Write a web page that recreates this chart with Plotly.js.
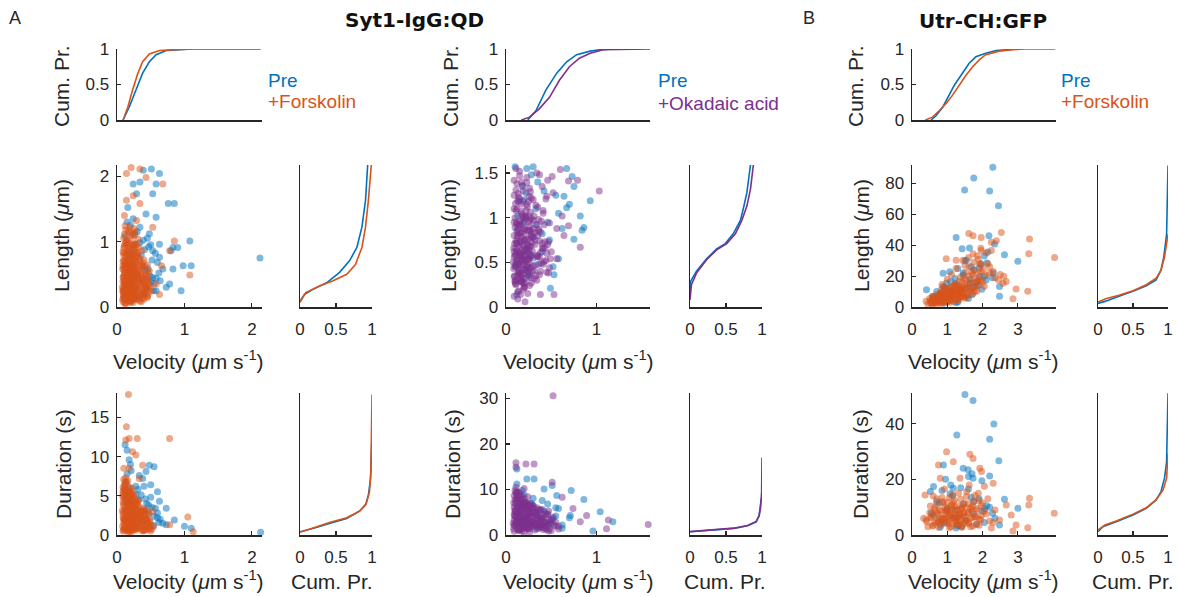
<!DOCTYPE html>
<html><head><meta charset="utf-8">
<script src="https://cdn.plot.ly/plotly-3.0.1.min.js"></script>
<style>html,body{margin:0;padding:0;background:#fff}#chart{width:1178px;height:597px}</style>
</head><body><div id="chart"></div>
<script>
// ---------------- DATA ----------------
// Tick values
const sytVelTicks = [0, 1, 2];
const sytLenTicks = [0, 1, 2];
const sytDurTicks = [0, 5, 10, 15];
const oaVelTicks = [0, 1];
const oaLenTicks = [0, 0.5, 1, 1.5];
const oaDurTicks = [0, 10, 20, 30];
const utrVelTicks = [0, 1, 2, 3];
const utrLenTicks = [0, 20, 40, 60, 80];
const utrDurTicks = [0, 20, 40];
const cdfTicks = [0, 0.5, 1];

// ===== Syt1-IgG:QD, Pre vs +Forskolin =====
const sytPreVelCdfX = [0.09,0.18,0.28,0.38,0.48,0.58,0.73,0.92,1.12,2.13];
const sytPreVelCdfP = [0,0.18,0.42,0.66,0.82,0.92,0.98,0.99,1,1];
const sytFskVelCdfX = [0.09,0.16,0.23,0.31,0.38,0.48,0.63,0.82,1.10];
const sytFskVelCdfP = [0,0.18,0.42,0.66,0.82,0.93,0.98,0.99,1];
const sytPreLenCdfP = [0,0.06,0.18,0.37,0.55,0.69,0.79,0.86,0.91,0.94];
const sytPreLenCdfY = [0.09,0.19,0.27,0.37,0.53,0.71,0.91,1.22,1.63,2.17];
const sytFskLenCdfP = [0,0.08,0.27,0.46,0.65,0.77,0.86,0.91,0.95,0.99];
const sytFskLenCdfY = [0.07,0.22,0.32,0.40,0.50,0.65,0.91,1.22,1.63,2.17];
const sytPreDurCdfP = [0,0.19,0.42,0.65,0.82,0.91,0.95,0.98,0.99,1];
const sytPreDurCdfY = [0.42,0.85,1.49,2.1,3.0,3.8,5.1,7.2,10.2,12.3];
const sytFskDurCdfP = [0,0.19,0.42,0.65,0.83,0.92,0.965,0.985,0.995,1];
const sytFskDurCdfY = [0.35,0.94,1.62,2.2,3.05,4.0,5.5,8.1,12.3,17.9];
const sytPreLenV = [0.51,0.63,0.58,0.34,0.24,0.53,0.76,0.85,0.58,0.43,1.08,0.83,0.90,0.80,0.98,1.10,0.83,2.12,0.95,0.68,0.78,0.63,0.48,0.39,0.29,0.16,0.34,0.53,0.63,0.53,0.58,0.73,
  0.10,0.14,0.18,0.22,0.27,0.33,0.38,0.44,0.49,0.55,0.12,0.20,0.30,0.41,0.52,0.16,0.25,0.35,0.46,0.58,0.11,0.24,0.39,0.50,0.62,
  0.13,0.17,0.21,0.26,0.31,0.36,0.42,0.47,0.54,0.60,0.15,0.19,0.23,0.28,0.34,0.40,0.45,0.50,0.57,0.64];
const sytPreLen = [2.11,2.04,1.88,1.91,1.88,1.73,1.58,1.58,1.37,1.42,1.01,0.91,0.91,0.86,0.63,0.63,0.58,0.75,0.25,0.58,0.35,0.96,1.12,2.09,1.73,1.52,1.22,0.86,0.76,0.45,0.25,0.30,
  0.15,0.32,0.55,0.78,0.95,0.41,0.62,0.28,0.47,0.36,1.08,1.25,1.15,0.88,0.72,0.65,0.22,0.18,0.58,0.44,0.45,1.35,1.02,0.95,0.52,
  0.62,0.85,0.35,1.12,0.48,0.79,0.56,0.92,0.25,0.68,1.30,0.42,0.66,0.30,0.98,0.20,1.05,0.38,0.82,0.40];
const sytFskLenV = [0.21,0.34,0.14,0.43,0.68,0.24,0.14,0.11,0.34,0.29,0.53,0.85,0.78,1.08,0.66,0.58,0.63,0.24,
  0.09,0.11,0.13,0.15,0.18,0.21,0.24,0.27,0.30,0.34,0.38,0.42,0.10,0.12,0.16,0.20,0.25,0.31,0.36,0.45,
  0.09,0.10,0.12,0.14,0.16,0.19,0.22,0.25,0.28,0.32,0.35,0.39,0.43,0.47,0.50,0.11,0.17,0.23,0.29,0.37,
  0.09,0.11,0.13,0.15,0.18,0.20,0.23,0.26,0.30,0.33,0.37,0.41,0.46,0.12,0.19,0.27,0.35,0.44,
  0.09,0.12,0.14,0.17,0.21,0.24,0.28,0.31,0.36,0.40,0.10,0.19,0.26,0.33,0.45,
  0.09,0.11,0.14,0.17,0.20,0.24,0.28,0.32,0.37,0.13,0.22,0.30,
  0.10,0.13,0.16,0.19,0.23,0.27,0.31,0.12,0.21,0.25,
  0.08,0.10,0.12,0.14,0.16,0.18,0.20,0.22,0.24,0.26,0.28,0.09,0.11,0.13,0.15,0.17,0.19,0.21,0.23,0.25,0.27,0.29,
  0.085,0.095,0.105,0.115,0.125,0.135,0.145,0.155,0.165,0.175,0.185,0.195,0.205,0.215,0.225,0.235,0.245,0.255,0.265,0.275,
  0.085,0.095,0.105,0.115,0.125,0.135,0.145,0.155,0.165,0.175,0.185,0.195,0.205,0.215,0.225,0.235,0.245,0.255,0.265,0.275,
  0.29,0.31,0.33,0.35,0.37,0.39,0.41,0.43,0.30,0.32,0.34,0.36,0.38,0.40,0.42,0.44,0.46,0.48,0.28,0.26,
  0.09,0.11,0.13,0.15,0.17,0.19,0.21,0.23,0.25,0.27,0.10,0.12,0.14,0.16,0.18,0.20,0.22,0.24,0.26,0.28,
  0.09,0.10,0.11,0.12,0.13,0.14,0.15,0.16,0.17,0.18,0.19,0.20,0.21,0.22,0.23,0.24,0.25,0.26,0.27,0.28,
  0.09,0.10,0.11,0.12,0.13,0.14,0.15,0.16,0.17,0.18,0.19,0.20,0.21,0.22,0.23,0.24,0.25,0.26,0.27,0.28,
  0.30,0.32,0.34,0.36,0.38,0.40,0.42,0.44,0.46,0.48,0.50,0.31,0.33,0.35,0.37,0.39,0.41,0.43,0.45,0.47];
const sytFskLen = [2.13,2.11,2.04,1.98,1.88,1.70,1.63,1.40,1.58,1.32,1.22,1.01,0.86,0.49,0.63,0.35,0.19,0.19,
  0.08,0.12,0.06,0.15,0.10,0.18,0.07,0.13,0.16,0.09,0.14,0.19,0.17,0.05,0.11,0.07,0.19,0.12,0.08,0.16,
  0.22,0.31,0.38,0.25,0.34,0.28,0.39,0.21,0.33,0.26,0.37,0.24,0.30,0.35,0.27,0.36,0.23,0.32,0.29,0.40,
  0.45,0.52,0.41,0.58,0.48,0.55,0.43,0.59,0.50,0.46,0.57,0.42,0.53,0.49,0.56,0.44,0.51,0.47,
  0.63,0.71,0.66,0.78,0.62,0.74,0.69,0.77,0.65,0.72,0.79,0.68,0.61,0.75,0.64,
  0.84,0.93,0.81,0.97,0.88,0.95,0.83,0.91,0.86,0.99,0.82,0.96,
  1.05,1.18,1.02,1.22,1.10,1.15,1.04,1.24,1.13,1.20,
  0.30,0.58,0.21,0.46,0.27,0.63,0.35,0.52,0.44,0.31,0.57,0.26,0.40,0.69,0.33,0.50,0.14,0.61,0.24,0.48,0.38,0.66,
  0.12,0.47,0.83,0.29,0.66,0.18,1.02,0.39,0.74,0.55,0.23,0.91,0.35,0.61,0.15,0.79,0.44,1.09,0.27,0.70,
  0.58,0.25,0.37,0.96,0.14,0.52,0.31,0.87,0.20,1.14,0.67,0.41,0.76,0.10,0.53,0.34,0.93,0.19,0.62,0.45,
  0.18,0.42,0.27,0.63,0.35,0.21,0.50,0.30,0.77,0.55,0.13,0.46,0.68,0.38,0.24,0.41,0.19,0.33,0.88,0.97,
  0.39,0.64,0.28,0.81,0.44,0.72,0.16,0.58,0.86,0.36,0.71,0.22,0.95,0.60,0.33,1.06,0.48,0.26,0.11,0.54,
  0.24,0.90,0.53,0.07,0.77,0.43,0.62,0.19,1.16,0.34,0.81,0.54,0.09,0.73,0.96,0.29,0.65,0.14,0.43,0.21,
  0.70,0.16,1.11,0.61,0.32,0.98,0.25,0.67,0.48,0.88,0.08,0.38,0.66,0.27,0.48,0.89,0.13,0.71,0.57,0.80,
  0.52,0.22,0.71,0.31,0.46,0.12,0.62,0.27,0.38,0.55,0.24,0.83,0.40,0.18,0.60,0.34,0.29,0.48,0.15,0.42];
const sytPreDurV = [0.12,0.15,0.18,0.48,0.55,0.43,0.50,0.60,0.73,0.85,1.00,1.10,2.13,0.73,0.63,0.38,
  0.12,0.18,0.25,0.32,0.40,0.47,0.55,0.62,0.15,0.28,0.36,0.44,0.52,0.60,0.68,0.20,0.33,
  0.13,0.17,0.21,0.26,0.31,0.36,0.42,0.47,0.54,0.60,0.15,0.19,0.23,0.28,0.34,0.40,0.45,0.50,0.57,0.64];
const sytPreDur = [11.5,10.8,9.6,8.9,8.7,8.1,6.4,5.5,3.4,1.9,1.1,0.85,0.34,1.3,4.3,7.2,
  5.5,4.8,3.9,4.5,3.2,2.8,2.4,1.6,7.8,6.2,5.1,4.0,3.5,2.2,1.5,9.0,7.6,
  6.8,3.5,8.2,2.2,5.8,1.5,4.6,3.8,1.2,2.8,4.2,6.0,2.6,5.2,3.0,6.2,1.8,4.8,3.4,2.0];
const sytFskDurV = [0.17,0.14,0.13,0.18,0.30,0.78,0.23,0.28,0.38,0.18,0.10,0.33,1.05,1.13,0.53,0.78,
  0.09,0.12,0.15,0.18,0.21,0.25,0.29,0.33,0.38,0.43,0.48,0.54,0.11,0.17,0.23,0.31,0.40,0.50,
  0.09,0.11,0.13,0.16,0.19,0.22,0.26,0.30,0.34,0.39,0.44,0.12,0.20,0.28,0.36,
  0.09,0.11,0.14,0.17,0.20,0.24,0.28,0.32,0.10,0.15,0.22,
  0.09,0.10,0.12,0.14,0.16,0.19,0.22,0.11,0.13,
  0.08,0.10,0.12,0.14,0.16,0.18,0.20,0.22,0.24,0.26,0.09,0.11,0.13,0.15,0.17,0.19,0.21,0.23,0.27,0.31,0.35,
  0.085,0.095,0.105,0.115,0.125,0.135,0.145,0.155,0.165,0.175,0.185,0.195,0.205,0.215,0.225,0.235,0.245,0.255,0.265,0.275,
  0.085,0.095,0.105,0.115,0.125,0.135,0.145,0.155,0.165,0.175,0.185,0.195,0.205,0.215,0.225,0.235,0.245,0.255,0.265,0.275,
  0.29,0.31,0.33,0.35,0.37,0.39,0.41,0.43,0.45,0.47,0.30,0.32,0.34,0.36,0.38,0.40,0.42,0.44,0.49,0.52,
  0.09,0.10,0.11,0.12,0.13,0.14,0.15,0.16,0.17,0.18,0.19,0.20,0.21,0.22,0.23,0.24,0.25,0.26,0.27,0.28,
  0.09,0.10,0.11,0.12,0.13,0.14,0.15,0.16,0.17,0.18,0.19,0.20,0.21,0.22,0.23,0.24,0.25,0.26,0.27,0.28,
  0.30,0.32,0.34,0.36,0.38,0.40,0.42,0.44,0.46,0.48,0.50,0.31,0.33,0.35,0.37,0.39,0.41,0.43,0.45,0.47];
const sytFskDur = [17.9,13.8,12.1,12.3,12.3,12.3,10.6,10.2,8.9,8.5,8.5,7.2,2.3,0.4,3.0,1.3,
  0.5,1.2,0.8,1.7,0.4,1.4,0.9,1.9,0.6,1.3,0.7,1.1,1.8,0.3,1.0,1.6,1.9,0.5,
  2.3,3.5,2.8,3.9,2.1,3.2,2.6,3.7,2.4,3.0,2.2,2.0,3.8,3.3,2.9,
  4.2,5.1,4.6,5.4,4.3,4.9,4.1,4.4,4.8,4.0,5.2,
  6.1,7.1,5.8,6.6,6.9,5.6,6.0,6.4,7.3,
  3.1,1.5,4.4,2.5,0.9,3.6,2.9,1.2,2.0,3.4,5.6,0.7,3.3,1.9,4.6,1.0,2.4,3.9,1.4,2.7,1.6,
  1.1,3.8,5.9,2.2,4.7,0.8,3.1,5.6,1.7,4.2,2.6,0.6,3.9,5.0,1.3,2.8,4.4,0.9,3.5,2.1,
  4.9,2.0,0.9,6.3,3.0,5.5,1.8,2.4,6.2,0.7,4.9,3.4,1.5,2.3,4.1,0.6,1.9,3.2,1.4,4.3,
  2.5,0.8,3.6,1.9,1.2,2.8,0.6,2.0,1.5,0.9,4.4,1.6,2.2,3.1,0.5,1.8,2.6,1.1,1.7,0.8,
  2.7,0.6,4.1,6.8,1.6,3.3,5.0,2.2,0.5,3.9,5.4,1.3,2.5,4.5,3.0,0.7,2.2,4.0,0.9,2.6,
  5.3,3.0,1.9,0.9,5.8,2.4,0.6,4.4,3.6,2.3,1.0,4.1,5.6,0.8,1.9,3.5,5.1,1.6,3.8,0.6,
  3.9,2.3,1.0,3.0,2.1,0.6,3.2,1.4,2.6,1.9,1.2,0.9,2.8,2.5,1.3,3.4,2.0,0.7,3.0,1.5];

// ===== Syt1-IgG:QD, Pre vs +Okadaic acid =====
const oaPreVelCdfX = [0.24,0.33,0.44,0.56,0.67,0.78,0.93,1.04,1.19];
const oaPreVelCdfP = [0,0.13,0.42,0.66,0.82,0.92,0.97,0.99,1];
const oaOaVelCdfX = [0.17,0.26,0.37,0.48,0.59,0.70,0.81,0.93,1.07,1.33,1.59];
const oaOaVelCdfP = [0,0.04,0.16,0.32,0.56,0.75,0.87,0.94,0.99,1,1];
const oaPreLenCdfP = [0,0.01,0.09,0.23,0.37,0.49,0.6,0.7,0.74,0.79,0.84];
const oaPreLenCdfY = [0.14,0.29,0.4,0.54,0.65,0.71,0.82,0.97,1.1,1.28,1.59];
const oaOaLenCdfP = [0,0.02,0.09,0.23,0.37,0.51,0.63,0.72,0.79,0.84,0.88];
const oaOaLenCdfY = [0.08,0.25,0.38,0.53,0.64,0.71,0.82,0.97,1.13,1.32,1.59];
const oaPreDurCdfP = [0,0.15,0.38,0.61,0.8,0.92,0.96,0.98,0.99];
const oaPreDurCdfY = [0.72,0.94,1.16,1.45,2.03,2.9,4.35,6.5,8.0];
const oaOaDurCdfP = [0,0.15,0.38,0.61,0.8,0.92,0.96,0.98,0.995,1];
const oaOaDurCdfY = [0.75,0.97,1.2,1.5,2.1,3.0,4.2,6.0,9.5,17];
const oaPreLenV = [0.10,0.30,0.23,0.67,0.73,0.75,0.93,0.82,0.86,0.84,0.75,0.58,0.64,0.49,0.53,0.12,0.67,
  0.11,0.15,0.20,0.26,0.33,0.40,0.18,0.24,0.30,0.13,0.22,0.36,
  0.12,0.16,0.20,0.25,0.30,0.35,0.40,0.46,0.52,0.58,0.14,0.18,0.22,0.28,0.34,0.42,0.48,0.55,0.62,0.70];
const oaPreLen = [1.57,1.57,1.55,1.55,1.46,1.35,1.19,1.02,0.89,0.86,0.76,0.54,1.24,0.21,0.36,0.14,1.11,
  0.45,0.72,0.95,0.60,1.10,0.82,1.35,0.38,0.55,1.02,1.28,0.48,
  0.85,0.52,1.20,0.35,0.78,1.40,0.62,0.95,0.45,1.05,1.18,0.28,0.66,1.48,0.92,1.30,0.75,1.25,0.88,1.15];
const oaOaLenV = [1.03,0.82,0.69,0.79,0.60,0.56,0.64,0.21,0.53,0.38,0.51,0.45,0.62,0.69,0.49,0.56,
  0.09,0.11,0.14,0.17,0.20,0.24,0.28,0.13,0.19,0.26,0.10,0.16,
  0.09,0.10,0.12,0.14,0.16,0.18,0.20,0.23,0.26,0.29,0.33,0.37,0.42,0.11,0.15,0.21,0.27,0.35,0.13,0.19,0.25,0.31,
  0.09,0.11,0.13,0.15,0.17,0.19,0.22,0.25,0.28,0.32,0.36,0.41,0.47,0.10,0.14,0.20,0.24,0.30,0.38,0.12,0.18,0.27,
  0.09,0.11,0.14,0.17,0.21,0.25,0.30,0.35,0.41,0.48,0.13,0.19,0.27,0.33,
  0.09,0.12,0.15,0.19,0.23,0.28,0.34,0.40,0.46,0.52,0.11,0.17,0.26,0.37,0.44,
  0.08,0.10,0.12,0.14,0.16,0.18,0.20,0.22,0.24,0.26,0.28,0.30,0.09,0.13,0.17,0.21,0.25,0.29,
  0.085,0.095,0.105,0.115,0.125,0.135,0.145,0.155,0.165,0.175,0.185,0.195,0.205,0.215,0.225,0.235,0.245,0.255,0.265,0.275,
  0.085,0.095,0.105,0.115,0.125,0.135,0.145,0.155,0.165,0.175,0.185,0.195,0.205,0.215,0.225,0.235,0.245,0.255,0.265,0.275,
  0.29,0.31,0.33,0.35,0.37,0.39,0.41,0.43,0.45,0.30,0.32,0.34,0.36,0.38,0.40,0.09,0.11,0.13,0.15,0.17,
  0.19,0.21,0.23,0.25,0.27,0.10,0.12,0.14,0.16,0.18,
  0.09,0.10,0.11,0.12,0.13,0.14,0.15,0.16,0.17,0.18,0.19,0.20,0.21,0.22,0.23,0.24,0.25,0.26,0.27,0.28,
  0.09,0.10,0.11,0.12,0.13,0.14,0.15,0.16,0.17,0.18,0.19,0.20,0.21,0.22,0.23,0.24,0.25,0.26,0.27,0.28,
  0.30,0.32,0.34,0.36,0.38,0.40,0.42,0.44,0.46,0.48,0.50,0.31,0.33,0.35,0.37,0.39,0.41,0.43,0.45,0.47];
const oaOaLen = [1.30,0.67,1.41,1.42,1.54,0.88,0.80,0.06,0.14,0.14,1.46,1.24,1.02,0.91,0.54,0.54,
  0.12,0.25,0.18,0.28,0.22,0.15,0.27,0.09,0.20,0.24,0.29,0.14,
  0.34,0.45,0.52,0.38,0.57,0.42,0.49,0.33,0.55,0.40,0.47,0.36,0.51,0.59,0.31,0.58,0.44,0.56,0.48,0.37,0.53,0.32,
  0.62,0.74,0.85,0.68,0.79,0.88,0.64,0.76,0.83,0.70,0.87,0.66,0.73,0.89,0.61,0.81,0.69,0.78,0.84,0.72,0.65,0.86,
  0.95,1.08,0.92,1.15,1.02,1.18,0.97,1.12,1.05,0.94,1.19,0.99,1.06,1.14,
  1.25,1.38,1.52,1.30,1.45,1.22,1.50,1.35,1.42,1.28,1.55,1.40,1.33,1.48,1.21,
  0.50,0.28,0.63,0.41,0.92,0.55,0.75,1.00,0.46,0.68,0.58,0.88,1.10,0.80,0.35,0.42,0.95,0.72,
  0.43,0.71,0.26,0.93,0.55,0.38,0.82,0.61,1.04,0.47,0.69,0.32,0.88,0.52,0.76,1.12,0.40,0.64,0.97,0.57,
  0.66,0.35,1.16,0.50,0.78,1.27,0.45,0.96,0.30,0.73,1.36,0.58,0.22,1.01,0.44,0.62,0.85,1.24,0.48,0.80,
  0.63,0.41,0.92,0.57,0.74,0.49,1.08,0.66,0.39,1.20,0.83,0.30,0.98,0.61,0.71,1.42,1.31,0.17,1.47,1.07,
  1.18,0.27,1.39,0.86,1.29,0.58,0.95,1.23,0.36,0.53,
  0.80,0.47,0.65,1.10,0.35,0.92,0.58,0.74,0.28,1.02,0.51,0.86,0.63,0.41,1.15,0.70,0.55,0.90,0.33,0.78,
  0.56,1.00,0.30,0.71,0.88,0.48,1.21,0.39,0.83,0.60,0.95,0.26,0.74,1.08,0.53,0.45,1.02,0.37,0.68,0.99,
  0.46,0.75,0.58,0.85,0.40,0.66,0.92,0.52,0.70,0.44,0.62,1.02,0.35,0.80,0.56,0.96,0.48,0.73,0.60,0.38];
const oaPreDurV = [0.12,0.23,0.31,0.51,0.72,0.86,1.04,1.18,0.96,0.56,0.42,0.71,
  0.12,0.18,0.25,0.33,0.41,0.50,0.15,0.22,0.30,0.38,0.46,0.55,0.62,
  0.12,0.16,0.20,0.25,0.30,0.35,0.40,0.46,0.52,0.58,0.14,0.18,0.22,0.28,0.34,0.42,0.48,0.55,0.62,0.70];
const oaPreDur = [14.5,12.3,12.3,10.9,9.8,7.8,5.1,2.9,0.9,8.7,10.1,4.3,
  9.5,7.2,6.0,4.8,3.6,2.5,3.0,1.8,8.1,5.5,6.8,4.2,1.5,
  11.2,5.0,8.8,3.2,6.5,2.0,7.6,4.6,3.6,5.8,2.5,9.8,4.0,7.0,1.4,5.2,2.6,6.0,2.2,3.8];
const oaOaDurV = [0.52,0.22,0.11,0.11,0.31,0.51,0.62,0.89,1.11,1.13,1.57,0.74,0.82,
  0.09,0.11,0.14,0.17,0.20,0.24,0.28,0.32,0.37,0.42,0.47,0.53,0.58,0.12,0.19,0.26,0.35,0.45,0.55,
  0.09,0.11,0.13,0.16,0.19,0.22,0.26,0.30,0.34,0.39,0.44,0.50,0.10,0.15,0.21,0.28,0.36,0.47,
  0.09,0.11,0.13,0.15,0.18,0.21,0.25,0.29,0.34,0.40,0.12,0.17,0.23,0.31,
  0.09,0.10,0.12,0.14,0.17,0.20,0.24,0.11,0.15,
  0.08,0.10,0.12,0.14,0.16,0.18,0.20,0.22,0.24,0.27,0.30,0.33,0.38,0.43,
  0.085,0.095,0.105,0.115,0.125,0.135,0.145,0.155,0.165,0.175,0.185,0.195,0.205,0.215,0.225,0.235,0.245,0.255,0.265,0.275,
  0.085,0.095,0.105,0.115,0.125,0.135,0.145,0.155,0.165,0.175,0.185,0.195,0.205,0.215,0.225,0.235,0.245,0.255,0.265,0.275,
  0.29,0.31,0.33,0.35,0.37,0.39,0.41,0.43,0.45,0.48,0.30,0.32,0.34,0.36,0.38,0.40,0.50,0.52,0.55,0.58,
  0.09,0.10,0.11,0.12,0.13,0.14,0.15,0.16,0.17,0.18,0.19,0.20,0.21,0.22,0.23,0.24,0.25,0.26,0.27,0.28,
  0.09,0.10,0.11,0.12,0.13,0.14,0.15,0.16,0.17,0.18,0.19,0.20,0.21,0.22,0.23,0.24,0.25,0.26,0.27,0.28,
  0.30,0.32,0.34,0.36,0.38,0.40,0.42,0.44,0.46,0.48,0.50,0.31,0.33,0.35,0.37,0.39,0.41,0.43,0.45,0.47];
const oaOaDur = [30.6,15.6,15.9,14.9,15.6,11.6,8.3,4.3,1.4,3.3,2.3,5.8,2.9,
  0.8,2.1,1.4,2.7,0.6,1.9,2.9,1.1,2.4,1.6,0.9,2.2,1.3,2.8,1.7,0.7,2.5,1.2,2.0,
  3.3,4.6,3.9,5.2,3.5,4.8,4.1,3.1,5.0,3.7,4.4,3.2,5.4,4.0,3.6,4.9,4.2,5.3,
  6.1,7.4,5.8,6.9,7.8,6.3,5.7,6.6,6.0,5.6,7.9,6.4,7.1,5.9,
  8.6,9.8,8.2,9.4,8.8,10.2,8.4,10.5,9.1,
  2.6,5.0,3.0,1.0,4.4,2.3,5.9,3.8,1.5,4.6,2.0,3.4,1.8,2.7,
  1.4,4.2,6.8,2.6,8.9,3.5,5.4,1.1,7.6,4.7,2.0,6.1,3.2,5.8,1.6,4.0,6.5,2.4,5.1,3.7,
  7.1,2.2,3.9,9.3,5.0,1.3,8.0,6.2,3.1,0.9,5.6,2.9,7.3,4.3,2.7,7.0,1.4,4.8,2.1,6.3,
  3.0,5.2,1.8,4.1,2.9,3.6,1.2,4.8,2.3,3.3,6.0,2.4,4.5,1.5,5.5,2.1,1.0,3.9,2.8,1.9,
  4.5,7.8,2.8,6.2,1.2,5.1,3.4,8.4,2.0,6.7,4.0,1.6,7.0,3.0,5.6,2.3,4.9,6.0,1.8,4.3,
  2.1,5.5,9.2,3.8,7.0,2.6,6.4,4.2,5.9,1.5,3.3,8.1,2.5,6.6,3.9,5.3,2.9,1.4,6.8,2.2,
  4.8,2.6,3.7,5.6,1.7,4.2,3.0,2.1,4.5,1.4,3.4,5.0,2.4,3.9,1.9,3.1,2.7,1.5,2.8,2.2];

// ===== Utr-CH:GFP, Pre vs +Forskolin =====
const utrPreVelCdfX = [0.54,0.68,0.87,1.01,1.2,1.39,1.62,1.81,2.09,2.38,2.66,2.99];
const utrPreVelCdfP = [0,0.06,0.18,0.32,0.49,0.63,0.8,0.89,0.94,0.98,0.99,1];
const utrFskVelCdfX = [0.38,0.58,0.77,0.96,1.15,1.34,1.53,1.72,1.91,2.09,2.47,2.85,3.23,4.06];
const utrFskVelCdfP = [0,0.04,0.13,0.23,0.35,0.49,0.63,0.75,0.85,0.92,0.97,0.99,1,1];
const utrPreLenCdfP = [0,0.11,0.3,0.5,0.69,0.83,0.9,0.94,0.98,0.99,1];
const utrPreLenCdfY = [2.3,3.8,7.0,10.2,13.8,17.6,23.9,32.4,47,68,91.6];
const utrFskLenCdfP = [0,0.11,0.3,0.5,0.69,0.83,0.9,0.95,0.99,1];
const utrFskLenCdfY = [3.2,5.3,7.6,10.6,14.4,18.6,23.9,32.4,44,47.2];
const utrPreDurCdfP = [0,0.07,0.26,0.5,0.69,0.83,0.9,0.95,0.98,0.99,1];
const utrPreDurCdfY = [1.2,3.0,4.8,7.2,9.6,12.6,15.6,20.4,26.3,35.9,50.9];
const utrFskDurCdfP = [0,0.1,0.26,0.5,0.69,0.83,0.93,0.98,1];
const utrFskDurCdfY = [1.8,3.6,5.0,7.5,9.8,12.6,16.2,20.4,29.3];
const utrPreLenV = [2.29,1.75,1.49,2.20,2.45,1.25,2.18,2.34,1.63,1.42,3.00,2.62,2.15,1.54,1.07,0.88,2.48,1.25,0.59,0.41,1.63,1.92,2.48,0.88,
  0.55,0.65,0.75,0.85,0.95,1.05,1.15,1.25,1.35,1.45,1.55,1.65,1.75,1.85,1.95,2.05,0.70,0.90,1.10,1.30,1.50,1.70,1.90,2.10,2.30,
  0.62,0.78,0.92,1.08,1.22,1.38,1.52,1.68,1.82,1.98,2.12,2.28,0.85,1.15,1.45,1.75,2.05,1.30,1.60,0.98];
const utrPreLen = [90.5,83.6,75.8,75.1,65.6,45.1,46.1,40.8,38.3,37.7,29.6,33.9,35.6,30.3,22.9,21.8,7.0,2.8,7.0,11.2,15.4,19.7,13.3,13.3,
  3.0,6.5,4.0,9.0,5.5,12.0,7.5,15.0,9.5,22.0,12.5,18.0,24.0,14.0,28.0,20.0,10.0,2.5,16.5,3.2,30.0,8.0,25.5,17.5,22.0,
  5.0,8.5,12.5,4.5,18.5,11.0,7.0,26.0,16.0,11.5,28.5,19.0,3.8,9.5,20.5,13.0,33.0,25.0,5.5,15.5];
const utrFskLenV = [4.04,3.33,3.31,3.28,2.95,2.86,2.53,1.61,1.73,1.96,2.39,2.25,1.96,1.25,1.44,0.97,2.58,2.67,2.20,1.92,1.73,
  0.45,0.55,0.62,0.70,0.78,0.85,0.92,1.00,1.05,1.10,1.15,1.20,1.25,1.30,1.35,1.40,1.45,1.50,1.58,1.65,1.72,1.80,1.90,2.00,2.10,2.20,2.35,2.50,
  0.50,0.60,0.68,0.75,0.82,0.90,0.97,1.03,1.08,1.13,1.18,1.23,1.28,1.33,1.38,1.43,1.48,1.55,1.62,1.70,1.78,1.86,1.95,2.05,
  0.40,0.58,0.72,0.88,0.95,1.02,1.12,1.22,1.32,1.42,1.52,1.62,1.75,1.88,2.02,2.15,2.30,2.45,2.60,
  0.85,1.00,1.12,1.25,1.38,1.50,1.60,1.70,1.85,1.95,2.10,2.25,
  0.60,0.72,0.80,0.88,0.96,1.04,1.12,1.20,1.28,1.36,1.44,0.66,0.84,1.00,1.16,1.32,0.92,1.08,1.24,1.40,
  0.52,0.58,0.64,0.70,0.76,0.82,0.88,0.94,1.00,1.06,1.12,1.18,1.24,1.30,1.36,1.42,1.48,1.54,1.60,1.66,1.72,1.78,1.84,1.90,1.96,
  0.52,0.58,0.64,0.70,0.76,0.82,0.88,0.94,1.00,1.06,1.12,1.18,1.24,1.30,1.36,1.42,1.48,1.54,1.60,1.66,1.72,1.78,1.84,1.90,1.96];
const utrFskLen = [32.0,44.0,34.5,10.2,11.6,5.3,48.3,47.6,46.1,45.1,43.0,36.6,36.6,30.3,30.3,31.3,15.4,16.5,26.0,28.1,34.5,
  2.0,3.5,4.2,5.0,3.0,6.1,4.8,7.5,5.5,8.8,6.2,9.5,7.0,10.5,8.2,11.5,9.0,12.0,14.0,10.5,15.5,12.8,18.0,16.0,20.5,22.0,19.0,21.0,
  5.5,2.5,7.2,4.0,9.0,5.2,10.8,3.8,12.5,7.8,14.0,5.0,11.0,16.5,6.5,13.2,18.5,8.5,20.0,11.8,24.0,17.0,27.0,13.5,
  3.8,6.8,2.2,8.0,3.2,11.5,9.8,14.8,4.5,9.2,22.5,26.0,29.0,31.0,24.5,28.0,23.0,17.5,20.0,
  14.5,18.0,21.0,25.0,19.5,27.0,32.0,22.5,33.0,38.0,35.0,42.0,
  4.5,6.0,7.8,3.5,8.5,9.8,4.2,11.0,8.0,12.2,10.0,2.8,11.8,6.8,9.0,5.8,13.0,3.0,13.8,7.2,
  4.0,1.8,5.6,3.2,6.6,2.4,7.4,5.8,3.6,10.2,6.6,8.4,12.6,4.8,10.8,7.0,14.6,6.0,11.2,15.8,8.8,19.0,10.4,14.4,23.0,
  2.6,6.0,3.0,7.8,4.8,9.6,3.0,10.6,8.2,5.0,13.0,3.6,9.2,14.0,11.6,16.0,5.8,17.6,8.0,12.6,21.0,9.8,16.4,21.8,17.2];
const utrPreDurV = [1.50,1.73,2.32,2.20,1.27,2.46,2.20,2.62,3.00,0.89,0.61,1.59,1.73,0.52,1.17,2.48,
  0.55,0.70,0.85,1.00,1.15,1.30,1.45,1.60,1.75,1.90,2.05,2.20,0.80,1.10,1.40,1.70,2.00,2.35,0.95,1.25,
  0.62,0.78,0.92,1.08,1.22,1.38,1.52,1.68,1.82,1.98,2.12,2.28,0.85,1.15,1.45,1.75,2.05,1.30,1.60,0.98];
const utrPreDur = [50.5,48.3,39.9,34.4,35.9,26.7,21.2,12.8,9.6,25.1,17.4,23.4,20.4,15.6,16.8,3.6,
  8.0,12.0,5.0,9.5,14.0,6.5,11.0,16.5,7.5,13.0,4.5,10.0,2.8,18.0,3.0,22.0,8.5,6.0,20.0,2.5,
  7.0,11.5,4.2,14.8,9.0,17.0,5.2,13.5,3.8,19.5,10.5,7.8,16.0,6.2,24.0,12.0,9.5,3.4,21.0,8.8];
const utrFskDurV = [0.98,0.75,1.17,1.64,1.73,1.92,1.97,0.80,1.36,2.30,3.33,3.31,4.03,2.81,2.95,3.28,2.86,0.37,0.33,0.42,2.67,2.48,
  0.40,0.50,0.60,0.70,0.80,0.90,1.00,1.10,1.20,1.30,1.40,1.50,1.60,1.70,1.80,1.90,2.00,2.10,2.20,2.35,
  0.45,0.55,0.65,0.75,0.85,0.95,1.05,1.15,1.25,1.35,1.45,1.55,1.65,1.75,1.85,1.95,2.05,2.15,2.30,
  0.60,0.78,0.92,1.02,1.12,1.22,1.32,1.42,1.52,1.62,1.72,1.88,2.05,2.25,
  0.70,0.88,1.08,1.18,1.28,1.38,1.48,1.58,0.98,1.68,
  0.85,0.95,1.05,1.15,1.25,1.35,1.45,1.00,1.20,1.40,0.75,1.10,1.30,1.60,
  0.52,0.58,0.64,0.70,0.76,0.82,0.88,0.94,1.00,1.06,1.12,1.18,1.24,1.30,1.36,1.42,1.48,1.54,1.60,1.66,1.72,1.78,1.84,1.90,1.96,
  0.52,0.58,0.64,0.70,0.76,0.82,0.88,0.94,1.00,1.06,1.12,1.18,1.24,1.30,1.36,1.42,1.48,1.54,1.60,1.66,1.72,1.78,1.84,1.90,1.96];
const utrFskDur = [29.9,25.1,26.3,29.0,27.5,24.0,22.8,20.4,20.4,18.6,13.2,10.8,7.8,7.2,3.6,2.6,1.4,14.4,6.0,4.8,10.8,5.4,
  5.5,8.0,3.5,11.0,6.0,4.5,9.5,3.0,12.5,7.0,5.5,10.0,4.0,8.5,6.5,3.5,11.5,7.5,5.0,9.0,
  3.0,6.5,9.0,4.5,13.5,7.5,5.0,14.5,3.5,10.5,8.0,15.5,6.0,12.0,9.5,5.5,8.5,13.0,4.5,
  14.0,9.0,16.5,6.8,10.5,5.0,15.0,2.8,6.2,18.0,3.2,15.0,17.5,2.5,
  7.8,11.5,8.2,6.5,8.8,12.8,4.2,11.2,5.8,10.0,
  6.0,8.8,4.0,9.2,5.6,7.4,6.8,11.8,10.2,9.6,5.2,7.0,4.6,8.0,
  6.2,3.2,9.8,5.0,7.2,3.8,12.0,6.4,8.8,2.6,10.8,6.0,4.2,9.2,7.6,3.4,11.4,5.2,8.2,3.0,10.4,6.6,4.0,12.4,7.0,
  10.4,7.4,4.4,13.0,2.8,8.6,5.6,10.0,4.6,13.4,7.8,11.6,7.0,3.6,5.4,9.6,7.8,13.8,4.6,9.4,6.2,14.2,8.8,5.8,10.6];

// ---------------- STYLE / LAYOUT ----------------
const W = 1178, H = 597;
const FONT = 'Liberation Sans, Arial, Helvetica, sans-serif';
const AX = '#262626';
const C_PRE = '#0072BD', C_FSK = '#D95319', C_OA = '#7E2F8E';
const px = x => x / W, py = y => 1 - y / H;
const nm = (p, n) => p + (n === 1 ? '' : n);

const rows = {top: [49, 120], mid: [165, 307], bot: [393, 535]};
const cols = [
  {sx: [117, 262], rx: [300, 372], vr: [0, 2.15], lr: [0, 2.17], dr: [0, 18.1], vt: sytVelTicks, lt: sytLenTicks, dt: sytDurTicks},
  {sx: [506, 650], rx: [690, 762], vr: [0, 1.59], lr: [0, 1.59], dr: [0, 31.2], vt: oaVelTicks, lt: oaLenTicks, dt: oaDurTicks},
  {sx: [912, 1056], rx: [1098, 1168], vr: [0, 4.08], lr: [0, 92], dr: [0, 51], vt: utrVelTicks, lt: utrLenTicks, dt: utrDurTicks}
];

const layout = {
  width: W, height: H, margin: {l: 0, r: 0, t: 0, b: 0},
  paper_bgcolor: '#fff', plot_bgcolor: 'rgba(0,0,0,0)', showlegend: false,
  annotations: []
};

function axisBase(extra) {
  return Object.assign({
    showline: true, linecolor: AX, linewidth: 1.5, ticks: 'inside', ticklen: 4, tickwidth: 1.2, tickcolor: AX,
    showgrid: false, zeroline: false, fixedrange: true,
    tickfont: {family: FONT, size: 17, color: AX}
  }, extra);
}
function addAxes(n, xdom, ydom, xr, yr, xt, yt) {
  const xa = axisBase({domain: [px(xdom[0]), px(xdom[1])], range: xr, anchor: nm('y', n), ticklabelstandoff: 6});
  const ya = axisBase({domain: [py(ydom[1]), py(ydom[0])], range: yr, anchor: nm('x', n), ticklabelstandoff: 3});
  if (xt) { xa.tickmode = 'array'; xa.tickvals = xt; } else { xa.ticks = ''; xa.showticklabels = false; }
  if (yt) { ya.tickmode = 'array'; ya.tickvals = yt; } else { ya.ticks = ''; ya.showticklabels = false; }
  layout[nm('xaxis', n)] = xa;
  layout[nm('yaxis', n)] = ya;
}
cols.forEach((c, i) => {
  const k = i * 5;
  addAxes(k + 1, c.sx, rows.top, c.vr, [0, 1], null, cdfTicks);
  addAxes(k + 2, c.sx, rows.mid, c.vr, c.lr, c.vt, c.lt);
  addAxes(k + 3, c.rx, rows.mid, [0, 1], c.lr, cdfTicks, null);
  addAxes(k + 4, c.sx, rows.bot, c.vr, c.dr, c.vt, c.dt);
  addAxes(k + 5, c.rx, rows.bot, [0, 1], c.dr, cdfTicks, null);
});

const traces = [];
function line(x, y, color, n) {
  traces.push({type: 'scatter', mode: 'lines', x, y, xaxis: nm('x', n), yaxis: nm('y', n),
    line: {color, width: 1.6}, hoverinfo: 'skip'});
}
function dots(x, y, color, n) {
  traces.push({type: 'scatter', mode: 'markers', x, y, xaxis: nm('x', n), yaxis: nm('y', n), cliponaxis: false,
    marker: {color, size: 7, opacity: 0.5, line: {width: 0}}, hoverinfo: 'skip'});
}
// column 1
line(sytPreVelCdfX, sytPreVelCdfP, C_PRE, 1); line(sytFskVelCdfX, sytFskVelCdfP, C_FSK, 1);
dots(sytPreLenV, sytPreLen, C_PRE, 2); dots(sytFskLenV, sytFskLen, C_FSK, 2);
line(sytPreLenCdfP, sytPreLenCdfY, C_PRE, 3); line(sytFskLenCdfP, sytFskLenCdfY, C_FSK, 3);
dots(sytPreDurV, sytPreDur, C_PRE, 4); dots(sytFskDurV, sytFskDur, C_FSK, 4);
line(sytPreDurCdfP, sytPreDurCdfY, C_PRE, 5); line(sytFskDurCdfP, sytFskDurCdfY, C_FSK, 5);
// column 2
line(oaPreVelCdfX, oaPreVelCdfP, C_PRE, 6); line(oaOaVelCdfX, oaOaVelCdfP, C_OA, 6);
dots(oaPreLenV, oaPreLen, C_PRE, 7); dots(oaOaLenV, oaOaLen, C_OA, 7);
line(oaPreLenCdfP, oaPreLenCdfY, C_PRE, 8); line(oaOaLenCdfP, oaOaLenCdfY, C_OA, 8);
dots(oaPreDurV, oaPreDur, C_PRE, 9); dots(oaOaDurV, oaOaDur, C_OA, 9);
line(oaPreDurCdfP, oaPreDurCdfY, C_PRE, 10); line(oaOaDurCdfP, oaOaDurCdfY, C_OA, 10);
// column 3
line(utrPreVelCdfX, utrPreVelCdfP, C_PRE, 11); line(utrFskVelCdfX, utrFskVelCdfP, C_FSK, 11);
dots(utrPreLenV, utrPreLen, C_PRE, 12); dots(utrFskLenV, utrFskLen, C_FSK, 12);
line(utrPreLenCdfP, utrPreLenCdfY, C_PRE, 13); line(utrFskLenCdfP, utrFskLenCdfY, C_FSK, 13);
dots(utrPreDurV, utrPreDur, C_PRE, 14); dots(utrFskDurV, utrFskDur, C_FSK, 14);
line(utrPreDurCdfP, utrPreDurCdfY, C_PRE, 15); line(utrFskDurCdfP, utrFskDurCdfY, C_FSK, 15);

// ---------------- TEXT ----------------
function ann(text, x, y, o) {
  o = o || {};
  layout.annotations.push({
    text, xref: 'paper', yref: 'paper', x: px(x), y: py(y), showarrow: false,
    xanchor: o.xa || 'center', yanchor: 'middle', textangle: o.rot || 0,
    font: {family: o.family || FONT, size: o.size || 21, color: o.color || AX, weight: o.weight || 'normal'}
  });
}
const VEL = 'Velocity (<i>μ</i>m s<sup>-1</sup>)';
ann('A', 15, 18, {size: 18});
ann('B', 809, 18, {size: 18});
ann('Syt1-IgG:QD', 414, 20, {family: 'DejaVu Sans, Verdana, sans-serif', size: 20, weight: 'bold', color: '#111'});
ann('Utr-CH:GFP', 983, 21, {family: 'DejaVu Sans, Verdana, sans-serif', size: 20, weight: 'bold', color: '#111'});
[[61, 61, 63, 189, 332], [450, 448, 452, 578, 725], [855, 861, 860, 983, 1133]].forEach(p => {
  ann('Cum. Pr.', p[0], 86, {rot: -90});
  ann('Length (<i>μ</i>m)', p[1], 236, {rot: -90});
  ann('Duration (s)', p[2], 464, {rot: -90});
  ann(VEL, p[3], 360);
  ann(VEL, p[3], 580);
  ann('Cum. Pr.', p[4], 581);
});
ann('Pre', 266, 80, {xa: 'left', color: C_PRE, size: 19});
ann('+Forskolin', 266, 101, {xa: 'left', color: C_FSK, size: 19});
ann('Pre', 656, 80, {xa: 'left', color: C_PRE, size: 19});
ann('+Okadaic acid', 656, 104, {xa: 'left', color: C_OA, size: 19});
ann('Pre', 1059, 80, {xa: 'left', color: C_PRE, size: 19});
ann('+Forskolin', 1059, 102, {xa: 'left', color: C_FSK, size: 19});

Plotly.newPlot('chart', traces, layout, {staticPlot: true, displayModeBar: false});
</script></body></html>
